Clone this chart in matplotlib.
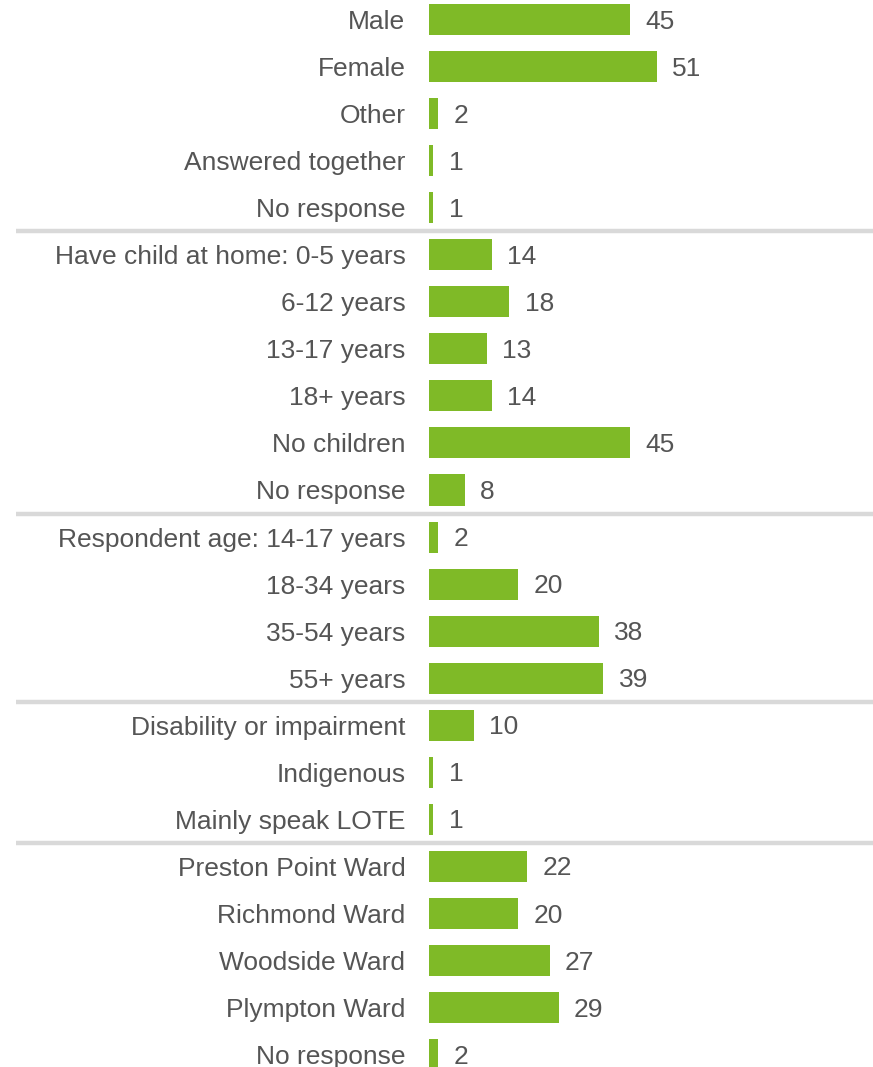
import matplotlib.pyplot as plt

# data
labels = [
    "Male", "Female", "Other", "Answered together", "No response",
    "Have child at home: 0-5 years", "6-12 years", "13-17 years", "18+ years",
    "No children", "No response",
    "Respondent age: 14-17 years", "18-34 years", "35-54 years", "55+ years",
    "Disability or impairment", "Indigenous", "Mainly speak LOTE",
    "Preston Point Ward", "Richmond Ward", "Woodside Ward", "Plympton Ward",
    "No response",
]
values = [45, 51, 2, 1, 1,
          14, 18, 13, 14, 45, 8,
          2, 20, 38, 39,
          10, 1, 1,
          22, 20, 27, 29, 2]
separators = [4.5, 10.5, 14.5, 17.5]

BAR_COLOR = "#7FBA27"
TEXT_COLOR = "#555555"
LINE_COLOR = "#D9D9D9"

plt.rcParams['font.family'] = ['Liberation Sans', 'DejaVu Sans']

DPI = 100
W, H = 873, 1067
fig = plt.figure(figsize=(W / DPI, H / DPI), dpi=DPI)

x0 = 429          # pixel of value 0
px_per_unit = 4.47
row0 = 19.5       # pixel centre of first row
row_step = 47.05

ax = fig.add_axes([x0 / W, 0, 1 - x0 / W, 1])
xmax = (W - x0) / px_per_unit
ax.set_xlim(0, xmax)
ax.set_ylim((H - row0) / row_step, -row0 / row_step)

ypos = list(range(len(values)))
ax.barh(ypos, values, height=0.66, color=BAR_COLOR)

for y, v in zip(ypos, values):
    ax.annotate(str(v), (v, y), xytext=(11, -1.5), textcoords="offset points",
                ha="left", va="center", fontsize=19, color=TEXT_COLOR)

ax.set_yticks(ypos)
ax.set_yticklabels(labels, fontsize=19, color=TEXT_COLOR)
ax.tick_params(axis="y", length=0, pad=17)
ax.set_xticks([])

xleft = (16 - x0) / px_per_unit
for s in separators:
    ax.plot([xleft, xmax], [s, s], color=LINE_COLOR, linewidth=3.2,
            clip_on=False, solid_capstyle="butt")

for sp in ax.spines.values():
    sp.set_visible(False)

fig.savefig("out.png", dpi=DPI)
